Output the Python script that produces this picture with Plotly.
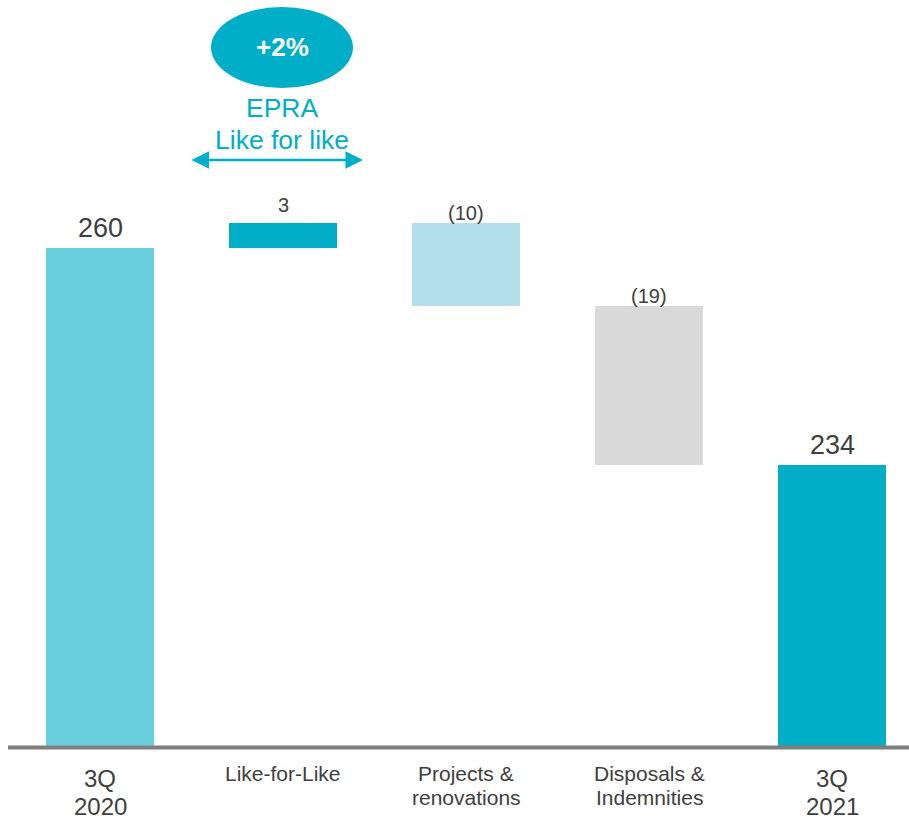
import plotly.graph_objects as go

categories = ["3Q<br>2020", "Like-for-Like", "Projects &<br>renovations", "Disposals &<br>Indemnities", "3Q<br>2021"]
values = [260, 3, -10, -19, 234]
kinds = ["total", "delta", "delta", "delta", "total"]
value_labels = ["260", "3", "(10)", "(19)", "234"]
colors = ["#69cfdd", "#00aec7", "#b3dfea", "#d9d9d9", "#00aec7"]

# compute bases for waterfall
bases, heights, tops = [], [], []
running = 0
for v, k in zip(values, kinds):
    if k == "total":
        bases.append(0)
        heights.append(v)
        running = v
        tops.append(v)
    else:
        start = running
        running = running + v
        bases.append(min(start, running))
        heights.append(abs(v))
        tops.append(max(start, running))

x = list(range(len(categories)))
PX_PER_UNIT = 8.346
y0 = 200.33
y1 = y0 + 746 / PX_PER_UNIT
r0 = -100 / 183
r1 = r0 + 909 / 183

fig = go.Figure()
fig.add_trace(go.Bar(
    x=x, y=heights, base=bases, width=0.59,
    marker=dict(color=colors, line=dict(width=0)),
    hoverinfo="skip", showlegend=False,
))

TXT = "#404040"
FONT = "Liberation Sans, Arial, sans-serif"
annotations = []
for i, (lab, t, k, v) in enumerate(zip(value_labels, tops, kinds, values)):
    big = k == "total"
    shift = 20 if big else (18 if v > 0 else 10)
    annotations.append(dict(
        x=i, y=t, xref="x", yref="y", text=lab, showarrow=False,
        xanchor="center", yanchor="middle", yshift=shift,
        font=dict(size=(27 if big else 20), color=TXT, family=FONT),
    ))
for i, c in enumerate(categories):
    big = c.startswith("3Q")
    lines = c.split("<br>")
    for j, line in enumerate(lines):
        center = (778 + 28 * j) if big else (773 + 24 * j)
        annotations.append(dict(
            x=i, y=0, xref="x", yref="paper", text=line, showarrow=False,
            xanchor="center", yanchor="middle", yshift=-(center - 746),
            font=dict(size=(24 if big else 21), color=TXT, family=FONT),
        ))

TEAL = "#00aec7"
# "+2%" inside ellipse
annotations.append(dict(
    x=282 / 909, y=(746 - 47) / 746, xref="paper", yref="paper",
    xanchor="center", yanchor="middle",
    text="<b>+2%</b>", showarrow=False,
    font=dict(size=26, color="white", family=FONT),
))
for txt, cy in (("EPRA", 108), ("Like for like", 140)):
    annotations.append(dict(
        x=282 / 909, y=(746 - cy) / 746, xref="paper", yref="paper",
        xanchor="center", yanchor="middle",
        text=txt, showarrow=False,
        font=dict(size=26.5, color=TEAL, family=FONT),
    ))
# double arrow
annotations.append(dict(
    x=363 / 909, y=(746 - 160) / 746, xref="paper", yref="paper",
    ax=-173, ay=0, axref="pixel", ayref="pixel",
    text="", showarrow=True, arrowhead=2, startarrowhead=2,
    arrowside="end+start", arrowsize=1.4, startarrowsize=1.4,
    arrowwidth=2.5, arrowcolor=TEAL, standoff=0, startstandoff=0,
))

shapes = [
    dict(type="circle", xref="paper", yref="paper",
         x0=211 / 909, x1=353 / 909, y0=(746 - 88) / 746, y1=(746 - 7) / 746,
         fillcolor=TEAL, line=dict(width=0), layer="below"),
    dict(type="line", xref="paper", yref="paper",
         x0=8 / 909, x1=909 / 909, y0=-1.5 / 746, y1=-1.5 / 746,
         line=dict(color="#7f7f7f", width=4)),
]

fig.update_layout(
    width=909, height=819,
    margin=dict(l=0, r=0, t=0, b=73),
    paper_bgcolor="white", plot_bgcolor="white",
    xaxis=dict(range=[r0, r1], showticklabels=False, showgrid=False,
               zeroline=False, showline=False, ticks="", fixedrange=True),
    yaxis=dict(range=[y0, y1], visible=False, showgrid=False, zeroline=False),
    annotations=annotations, shapes=shapes,
    bargap=0,
    font=dict(family=FONT),
)

fig.write_html(
    "out.html",
    config={"displayModeBar": False},
    post_script="document.body.style.margin='0';document.body.style.padding='0';",
)
